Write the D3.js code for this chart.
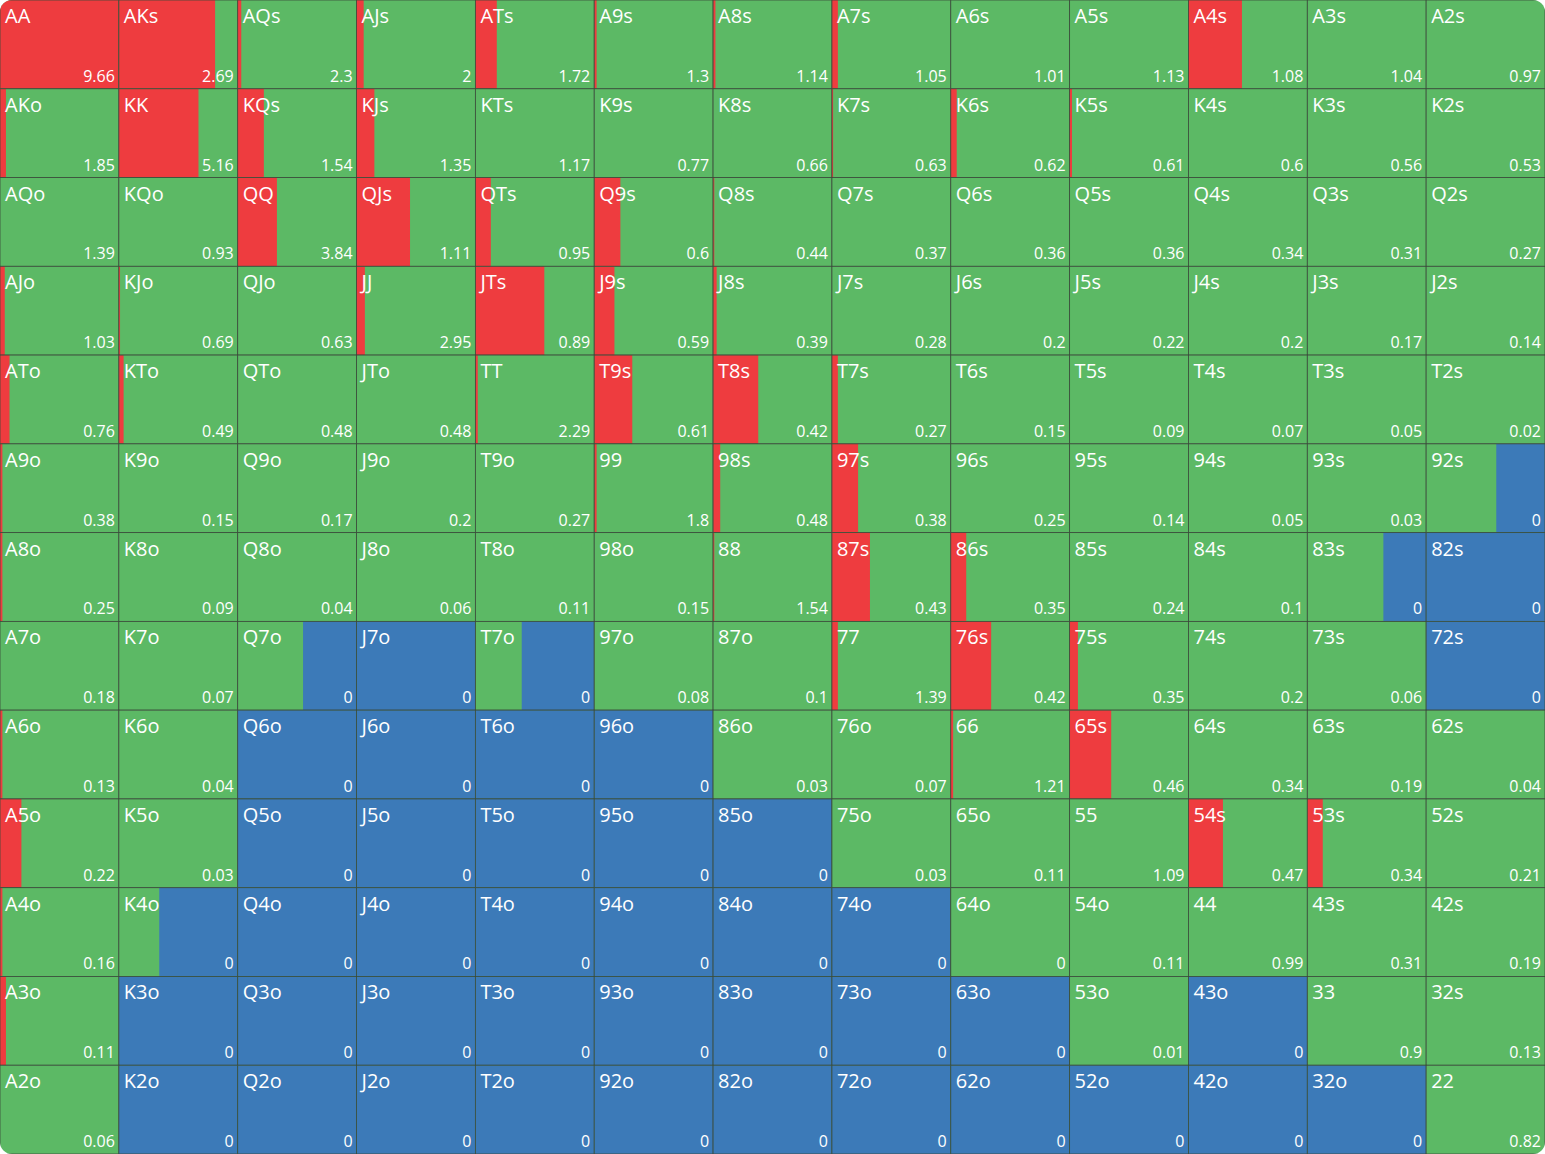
<!DOCTYPE html>
<html><head><meta charset="utf-8">
<script src="https://cdn.jsdelivr.net/npm/d3@7"></script>
<style>body{margin:0;background:#fff}svg{display:block}</style>
</head><body>
<svg id="chart" width="1545" height="1154"></svg>
<script>
var ranks = ["A","K","Q","J","T","9","8","7","6","5","4","3","2"];

var ev = [
 [9.66,2.69,2.3,2,1.72,1.3,1.14,1.05,1.01,1.13,1.08,1.04,0.97],
 [1.85,5.16,1.54,1.35,1.17,0.77,0.66,0.63,0.62,0.61,0.6,0.56,0.53],
 [1.39,0.93,3.84,1.11,0.95,0.6,0.44,0.37,0.36,0.36,0.34,0.31,0.27],
 [1.03,0.69,0.63,2.95,0.89,0.59,0.39,0.28,0.2,0.22,0.2,0.17,0.14],
 [0.76,0.49,0.48,0.48,2.29,0.61,0.42,0.27,0.15,0.09,0.07,0.05,0.02],
 [0.38,0.15,0.17,0.2,0.27,1.8,0.48,0.38,0.25,0.14,0.05,0.03,0],
 [0.25,0.09,0.04,0.06,0.11,0.15,1.54,0.43,0.35,0.24,0.1,0,0],
 [0.18,0.07,0,0,0,0.08,0.1,1.39,0.42,0.35,0.2,0.06,0],
 [0.13,0.04,0,0,0,0,0.03,0.07,1.21,0.46,0.34,0.19,0.04],
 [0.22,0.03,0,0,0,0,0,0.03,0.11,1.09,0.47,0.34,0.21],
 [0.16,0,0,0,0,0,0,0,0,0.11,0.99,0.31,0.19],
 [0.11,0,0,0,0,0,0,0,0,0.01,0,0.9,0.13],
 [0.06,0,0,0,0,0,0,0,0,0,0,0,0.82]
];

// share of the cell that is raise (red, from left)
var raise = [
 [1,0.81,0.03,0.06,0.18,0.02,0.02,0.05,0,0,0.45,0,0],
 [0.05,0.67,0.22,0.15,0,0,0,0.01,0.05,0.02,0,0,0],
 [0,0,0.33,0.45,0.13,0.22,0.01,0,0,0,0,0,0],
 [0.04,0.01,0,0.07,0.58,0.17,0.03,0,0,0,0,0,0],
 [0.08,0.04,0,0,0.02,0.32,0.38,0.05,0,0,0,0,0],
 [0.02,0,0,0,0,0.02,0.06,0.22,0,0,0,0,0],
 [0.02,0,0,0,0,0,0.01,0.32,0.13,0,0,0,0],
 [0,0,0,0,0,0,0,0.05,0.34,0.07,0,0,0],
 [0.02,0,0,0,0,0,0,0,0.02,0.35,0,0,0],
 [0.18,0,0,0,0,0,0,0,0,0,0.29,0.13,0],
 [0.02,0,0,0,0,0,0,0,0,0,0,0,0],
 [0.05,0,0,0,0,0,0,0,0,0,0,0,0],
 [0,0,0,0,0,0,0,0,0,0,0,0,0]
];

// share of the cell that is fold (blue, from right)
var fold = [
 [0,0,0,0,0,0,0,0,0,0,0,0,0],
 [0,0,0,0,0,0,0,0,0,0,0,0,0],
 [0,0,0,0,0,0,0,0,0,0,0,0,0],
 [0,0,0,0,0,0,0,0,0,0,0,0,0],
 [0,0,0,0,0,0,0,0,0,0,0,0,0],
 [0,0,0,0,0,0,0,0,0,0,0,0,0.41],
 [0,0,0,0,0,0,0,0,0,0,0,0.36,1],
 [0,0,0.45,1,0.61,0,0,0,0,0,0,0,1],
 [0,0,1,1,1,1,0,0,0,0,0,0,0],
 [0,0,1,1,1,1,1,0,0,0,0,0,0],
 [0,0.66,1,1,1,1,1,1,0,0,0,0,0],
 [0,1,1,1,1,1,1,1,1,0,1,0,0],
 [0,1,1,1,1,1,1,1,1,1,1,1,0]
];

var W = 1545, H = 1154;
var svg = d3.select("#chart");
var x = d3.scaleBand().domain(d3.range(13)).range([0, W]);
var y = d3.scaleBand().domain(d3.range(13)).range([0, H]);
var cw = x.bandwidth(), ch = y.bandwidth();

svg.append("clipPath").attr("id", "clip").append("rect")
    .attr("width", W).attr("height", H).attr("rx", 12);
var g = svg.append("g").attr("clip-path", "url(#clip)");

var cells = [];
ranks.forEach(function (r, i) {
    ranks.forEach(function (c, j) {
        var name = i === j ? r + c : i < j ? r + c + "s" : c + r + "o";
        cells.push({i: i, j: j, name: name, ev: ev[i][j], raise: raise[i][j], fold: fold[i][j]});
    });
});

var cell = g.selectAll("g.cell").data(cells).enter().append("g")
    .attr("transform", function (d) { return "translate(" + x(d.j) + "," + y(d.i) + ")"; });

cell.append("rect").attr("width", cw).attr("height", ch).attr("fill", "#5cb965");
cell.append("rect").attr("width", function (d) { return d.raise * cw; })
    .attr("height", ch).attr("fill", "#ee3c3f");
cell.append("rect").attr("x", function (d) { return (1 - d.fold) * cw; })
    .attr("width", function (d) { return d.fold * cw; })
    .attr("height", ch).attr("fill", "#3c7ab8");
cell.append("rect").attr("width", cw).attr("height", ch)
    .attr("fill", "none").attr("stroke", "#3a4a3a").attr("stroke-width", 0.8);

cell.append("text").attr("x", 5).attr("y", 23).text(function (d) { return d.name; })
    .style("font-family", "'Open Sans', sans-serif").style("font-size", "20px").style("fill", "#fff");
cell.append("text").attr("x", cw - 4).attr("y", ch - 7).attr("text-anchor", "end")
    .text(function (d) { return d.ev; })
    .style("font-family", "'Open Sans', sans-serif").style("font-size", "16px").style("fill", "#fff");
</script>
</body></html>
